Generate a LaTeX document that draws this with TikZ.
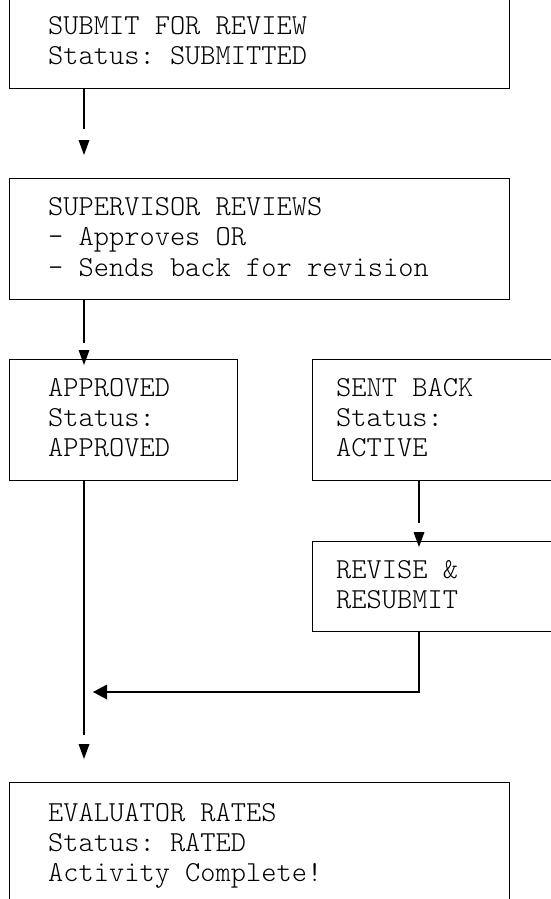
\documentclass[tikz,border=0pt]{standalone}
\usepackage{fontspec}
\setmonofont{Latin Modern Mono Light}
\frenchspacing
\begin{document}
\begin{tikzpicture}[x=1pt,y=-1pt,
  box/.style={draw, line width=1.3pt, anchor=north west, inner sep=0pt},
  txt/.style={anchor=base west, inner sep=0pt, font=\ttfamily\fontsize{29}{30}\selectfont},
  conn/.style={line width=1.3pt},
  tipfill/.style={fill=black}]
\useasboundingbox (0,0) rectangle (551,899);
\clip (0,0) rectangle (551,899);
% boxes
\node[box, minimum width=500pt, minimum height=108pt] (b1) at (9,-20) {};
\node[box, minimum width=500pt, minimum height=121pt] (b2) at (9,178) {};
\node[box, minimum width=228pt, minimum height=121pt] (b3) at (9,359) {};
\node[box, minimum width=300pt, minimum height=121pt] (b4) at (312,359) {};
\node[box, minimum width=300pt, minimum height=90pt] (b5) at (312,541) {};
\node[box, minimum width=500pt, minimum height=200pt] (b6) at (9,782) {};
% texts
\node[txt] (t1a) at (48,35) {SUBMIT FOR REVIEW};
\node[txt] (t1b) at (48,64) {Status: SUBMITTED};
\node[txt] (t2a) at (48,215) {SUPERVISOR REVIEWS};
\node[txt] (t2b) at (48,245.5) {- Approves OR};
\node[txt] (t2c) at (48,276) {- Sends back for revision};
\node[txt] (t3a) at (48,396.5) {APPROVED};
\node[txt] (t3b) at (48,426.5) {Status:};
\node[txt] (t3c) at (48,456.5) {APPROVED};
\node[txt] (t4a) at (336,396.5) {SENT BACK};
\node[txt] (t4b) at (336,426.5) {Status:};
\node[txt] (t4c) at (336,456.5) {ACTIVE};
\node[txt] (t5a) at (336,578) {REVISE \&};
\node[txt] (t5b) at (336,608) {RESUBMIT};
\node[txt] (t6a) at (48,821) {EVALUATOR RATES};
\node[txt] (t6b) at (48,851) {Status: RATED};
\node[txt] (t6c) at (48,881) {Activity Complete!};
% connector coordinates
\coordinate (e1) at (84,129);
\coordinate (h1) at (84,155);
\coordinate (e2) at (84,343);
\coordinate (h2) at (84,365);
\coordinate (e4) at (419,523);
\coordinate (h4) at (419,547);
\coordinate (r1) at (419,692);
\coordinate (r2) at (107,692);
\coordinate (h5) at (93,692);
\coordinate (e3) at (84,735);
\coordinate (h3) at (84,759);
% connectors
\draw[conn] (b1.south -| e1) -- (e1);
\fill[tipfill] (h1) -- ++(-5.5,-15) -- ++(11,0) -- cycle;
\draw[conn] (b2.south -| e2) -- (e2);
\fill[tipfill] (h2) -- ++(-5.5,-15) -- ++(11,0) -- cycle;
\draw[conn] (b4.south -| e4) -- (e4);
\fill[tipfill] (h4) -- ++(-5.5,-15) -- ++(11,0) -- cycle;
\draw[conn] (b5.south -| r1) -- (r1) -- (r2);
\fill[tipfill] (h5) -- ++(14,-7.5) -- ++(0,15) -- cycle;
\draw[conn] (b3.south -| e3) -- (e3);
\fill[tipfill] (h3) -- ++(-5.5,-15) -- ++(11,0) -- cycle;
\end{tikzpicture}
\end{document}
